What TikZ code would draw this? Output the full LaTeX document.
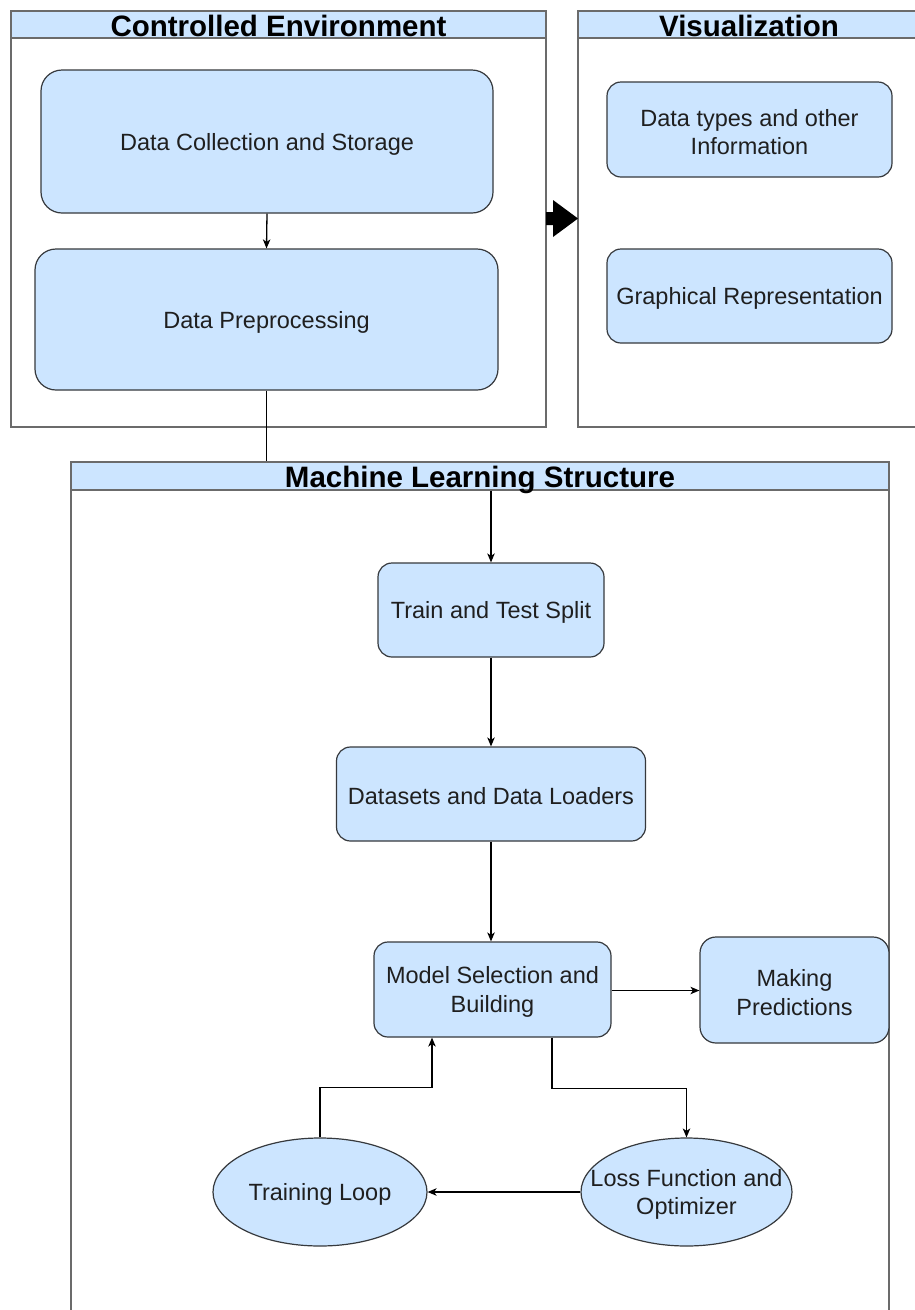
\documentclass[tikz,border=0pt]{standalone}
\usepackage{fontspec}
\setmainfont{Liberation Sans}
\usetikzlibrary{shapes.geometric,arrows.meta,calc}

\definecolor{boxfill}{HTML}{CCE5FF}
\definecolor{boxline}{HTML}{36393D}
\definecolor{frameline}{HTML}{6B6B6B}
\definecolor{inktext}{HTML}{1F1F1F}

\newcommand{\bodyfont}{\fontsize{23.5}{28.5}\selectfont}
\newcommand{\headfont}{\fontsize{29.5}{32}\bfseries\selectfont}

\tikzset{
  frame/.style={draw=frameline, line width=1.3pt, fill=white, inner sep=0pt},
  framehead/.style={draw=frameline, line width=1.3pt, fill=boxfill, inner sep=0pt},
  headtext/.style={font=\headfont, anchor=base, inner sep=0pt, text=black},
  stepbox/.style={draw=boxline, fill=boxfill, line width=1.2pt,
    rounded corners=#1, inner sep=0pt},
  roundstep/.style={ellipse, draw=boxline, fill=boxfill, line width=1.2pt, inner sep=0pt},
  steptext/.style={text=inktext, font=\bodyfont, align=center, inner sep=0pt},
  link/.style={draw=black, line width=1.3pt},
  flow/.style={link, -{Stealth[length=9pt,width=7.5pt,inset=2.5pt]}}
}

% a step label, set a little below the centre of its box
\newcommand{\steplabel}[2]{\node[steptext] (#1-t) at ([yshift=-2.5pt]#1.center) {#2};}

\begin{document}
\begin{tikzpicture}[x=1pt, y=-1pt]
\useasboundingbox (0,0) rectangle (915,1310);

% ---- containers ----
\node[frame, minimum width=535pt, minimum height=416pt] (ce) at (278.5,219) {};
\node[framehead, minimum width=535pt, minimum height=27pt, anchor=north] (cehead) at (ce.north) {};
\node[headtext] (cetitle) at (278.5,36) {Controlled Environment};

\node[frame, minimum width=347pt, minimum height=416pt] (vis) at (751.5,219) {};
\node[framehead, minimum width=347pt, minimum height=27pt, anchor=north] (vishead) at (vis.north) {};
\node[headtext] (vistitle) at (749,36) {Visualization};

\node[frame, minimum width=818pt, minimum height=860pt] (ml) at (480,892) {};
\node[framehead, minimum width=818pt, minimum height=28pt, anchor=north] (mlhead) at (ml.north) {};
\node[headtext] (mltitle) at (480,487) {Machine Learning Structure};

% block arrow from the environment to the visualization panel
\fill[black] (546,212) -- (553,212) -- (553,200) -- (578,218.5)
  -- (553,237) -- (553,225) -- (546,225) -- cycle;

% ---- steps ----
\node[stepbox=21pt, minimum width=452pt, minimum height=143pt] (dcs) at (267,141.5) {};
\steplabel{dcs}{Data Collection and Storage}
\node[stepbox=21pt, minimum width=463pt, minimum height=141pt] (dp) at (266.5,319.5) {};
\steplabel{dp}{Data Preprocessing}

\node[stepbox=14pt, minimum width=285pt, minimum height=95pt] (dtype) at (749.5,129.5) {};
\steplabel{dtype}{Data types and other\\Information}
\node[stepbox=14pt, minimum width=285pt, minimum height=94pt] (graph) at (749.5,296) {};
\steplabel{graph}{Graphical Representation}

\node[stepbox=14pt, minimum width=226pt, minimum height=94pt] (tts) at (491,610) {};
\steplabel{tts}{Train and Test Split}
\node[stepbox=14pt, minimum width=309pt, minimum height=94pt] (dsl) at (491,794) {};
\steplabel{dsl}{Datasets and Data Loaders}
\node[stepbox=14pt, minimum width=237pt, minimum height=95pt] (msb) at (492.5,989.5) {};
\steplabel{msb}{Model Selection and\\Building}
\node[stepbox=16pt, minimum width=189pt, minimum height=106pt] (mp) at (794.5,990) {};
\steplabel{mp}{Making\\Predictions}

\node[roundstep, minimum width=211pt, minimum height=108pt] (lf) at (686.5,1192) {};
\steplabel{lf}{Loss Function and\\Optimizer}
\node[roundstep, minimum width=214pt, minimum height=108pt] (tl) at (320,1192) {};
\steplabel{tl}{Training Loop}

% ---- connectors ----
\draw[flow] (dcs.south) -- (dp.south |- dp.north);
\draw[link] (dp.south) -- (dp.south |- mlhead.north);
\draw[flow] (tts.north |- mlhead.south) -- (tts.north);
\draw[flow] (tts.south) -- (dsl.north);
\draw[flow] (dsl.south) -- (dsl.south |- msb.north);
\draw[flow] ([yshift=-1pt]msb.east) -- ([yshift=-1pt]msb.east -| mp.west);
\draw[flow] ([xshift=59.5pt]msb.south) -- ++(0,51) -| (lf.north);
\draw[flow] (lf.west) -- (tl.east);
\draw[flow] (tl.north) -- ++(0,-50) -| ([xshift=-60.5pt]msb.south);
\end{tikzpicture}
\end{document}
